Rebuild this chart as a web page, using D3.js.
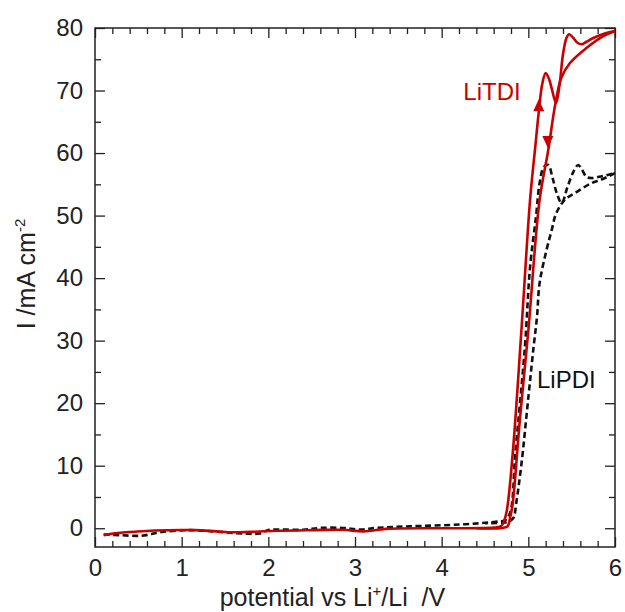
<!DOCTYPE html>
<html>
<head>
<meta charset="utf-8">
<script src="https://cdn.jsdelivr.net/npm/d3@7"></script>
<style>
  html, body { margin: 0; padding: 0; background: #fff; }
  svg { display: block; font-family: "Liberation Sans", Arial, sans-serif; }
  .tick text { font-size: 24px; fill: #222; }
  .axis-label { font-size: 25px; fill: #222; }
  .series-label { font-size: 24px; }
</style>
</head>
<body>
<div id="chart"></div>
<script>
// LiTDI (red, solid) - forward scan then reverse scan
const litdiForwardV = [0.1, 0.23, 0.45, 0.69, 1.15, 1.4, 1.6, 1.85, 2.1, 2.54, 2.86, 3.1, 3.36, 4.0, 4.6, 4.68, 4.71, 4.75, 4.82, 4.92, 5.02, 5.08, 5.12, 5.16, 5.20, 5.24, 5.27, 5.32, 5.36, 5.40, 5.44, 5.47, 5.52, 5.57, 5.615, 5.67, 5.75, 5.9, 6.0];
const litdiForwardI = [-1.1, -0.8, -0.55, -0.35, -0.3, -0.5, -0.65, -0.55, -0.4, -0.3, -0.25, -0.5, -0.1, 0.0, 0.1, 0.3, 0.8, 2.7, 12, 31.6, 52.5, 61, 66.5, 71, 72.8, 71.8, 70.3, 68.0, 70.9, 75.8, 78.4, 79.0, 78.4, 77.6, 77.4, 77.8, 78.4, 79.2, 79.5];
const litdiReverseV = [6.0, 5.865, 5.67, 5.48, 5.38, 5.32, 5.29, 5.23, 5.13, 5.0, 4.9, 4.82, 4.79, 4.76, 4.7, 4.4];
const litdiReverseI = [79.5, 78.7, 76.8, 74.4, 72.0, 68.5, 66.1, 60.5, 52.5, 31.6, 17, 4, 1.7, 0.3, 0.05, 0.0];

// LiPDI (black, dashed)
const lipdiForwardV = [0.1, 0.29, 0.54, 0.77, 1.1, 1.35, 1.73, 1.9, 2.0, 2.4, 2.6, 2.86, 3.06, 3.25, 3.63, 4.21, 4.6, 4.73, 4.79, 4.85, 4.96, 5.02, 5.09, 5.13, 5.18, 5.23, 5.28, 5.33, 5.385, 5.45, 5.52, 5.575, 5.62, 5.67, 5.73, 5.85, 6.0];
const lipdiForwardI = [-1.0, -1.1, -1.2, -0.6, -0.3, -0.5, -0.85, -0.85, -0.3, -0.25, 0.05, 0.05, -0.2, 0.05, 0.3, 0.6, 1.0, 1.3, 2.5, 12, 28.9, 41.8, 50, 55.2, 57.8, 58.1, 56, 53.5, 52.0, 54.5, 57, 58.1, 57.3, 56.2, 56.0, 56.3, 56.8];
const lipdiReverseV = [6.0, 5.85, 5.73, 5.56, 5.42, 5.32, 5.27, 5.21, 5.13, 5.10, 5.06, 5.0, 4.92, 4.86, 4.83, 4.78, 4.7, 4.5];
const lipdiReverseI = [56.8, 55.8, 55.2, 53.8, 52.5, 50.3, 47.7, 44.5, 39.2, 33.8, 28.9, 20.9, 10.2, 4, 1.7, 1.1, 0.9, 0.8];

// scan direction arrows on the LiTDI curve (tip position)
const arrowV = [5.12, 5.225];
const arrowI = [68.6, 60.8];
const arrowDir = ["up", "down"];

const xTicks = [0, 1, 2, 3, 4, 5, 6];
const yTicks = [0, 10, 20, 30, 40, 50, 60, 70, 80];

const W = 625, H = 612;
const margin = { top: 28, right: 10, bottom: 65, left: 95 };
const plotW = W - margin.left - margin.right;
const plotH = H - margin.top - margin.bottom;

const svg = d3.select("#chart").append("svg")
  .attr("width", W)
  .attr("height", H);

const g = svg.append("g").attr("transform", `translate(${margin.left},${margin.top})`);

const x = d3.scaleLinear().domain([0, 6]).range([0, plotW]);
const y = d3.scaleLinear().domain([-3, 80]).range([plotH, 0]);

const zip = (vs, is) => vs.map((v, k) => ({ v, i: is[k] }));
const lineFree = d3.line().x(d => x(d.v)).y(d => y(d.i)).curve(d3.curveCatmullRom.alpha(0.5));

const red = "#c80000";

// minor ticks
const xMinor = d3.range(0, 6.001, 0.2).filter(v => Math.abs(v - Math.round(v)) > 1e-6);
const yMinor = d3.range(5, 80, 10);

function styleAxis(sel) {
  sel.select(".domain").remove();
  sel.selectAll(".tick line").attr("stroke", "#222").attr("stroke-width", 1.3);
}

// bottom
g.append("g").attr("transform", `translate(0,${plotH})`)
  .call(d3.axisBottom(x).tickValues(xTicks).tickFormat(d3.format("d")).tickSizeInner(-10).tickSizeOuter(0).tickPadding(12))
  .call(styleAxis);
g.append("g").attr("transform", `translate(0,${plotH})`)
  .call(d3.axisBottom(x).tickValues(xMinor).tickFormat("").tickSizeInner(-6).tickSizeOuter(0))
  .call(styleAxis);
// top
g.append("g")
  .call(d3.axisTop(x).tickValues(xTicks).tickFormat("").tickSizeInner(-10).tickSizeOuter(0))
  .call(styleAxis);
g.append("g")
  .call(d3.axisTop(x).tickValues(xMinor).tickFormat("").tickSizeInner(-6).tickSizeOuter(0))
  .call(styleAxis);
// left
g.append("g")
  .call(d3.axisLeft(y).tickValues(yTicks).tickFormat(d3.format("d")).tickSizeInner(-10).tickSizeOuter(0).tickPadding(12))
  .call(styleAxis);
g.append("g")
  .call(d3.axisLeft(y).tickValues(yMinor).tickFormat("").tickSizeInner(-6).tickSizeOuter(0))
  .call(styleAxis);
// right
g.append("g").attr("transform", `translate(${plotW},0)`)
  .call(d3.axisRight(y).tickValues(yTicks).tickFormat("").tickSizeInner(-10).tickSizeOuter(0))
  .call(styleAxis);
g.append("g").attr("transform", `translate(${plotW},0)`)
  .call(d3.axisRight(y).tickValues(yMinor).tickFormat("").tickSizeInner(-6).tickSizeOuter(0))
  .call(styleAxis);

g.selectAll(".tick text").attr("font-family", null).attr("font-size", null);

// frame
g.append("rect")
  .attr("width", plotW).attr("height", plotH)
  .attr("fill", "none").attr("stroke", "#222").attr("stroke-width", 1.5);

// curves
g.append("clipPath").attr("id", "clip").append("rect")
  .attr("width", plotW).attr("height", plotH);
const curves = g.append("g").attr("clip-path", "url(#clip)");

curves.append("path")
  .attr("d", lineFree(zip(lipdiForwardV, lipdiForwardI)))
  .attr("fill", "none").attr("stroke", "#111").attr("stroke-width", 2.6)
  .attr("stroke-dasharray", "6,3.5");
curves.append("path")
  .attr("d", lineFree(zip(lipdiReverseV, lipdiReverseI)))
  .attr("fill", "none").attr("stroke", "#111").attr("stroke-width", 2.6)
  .attr("stroke-dasharray", "6,3.5");

curves.append("path")
  .attr("d", lineFree(zip(litdiForwardV, litdiForwardI)))
  .attr("fill", "none").attr("stroke", red).attr("stroke-width", 2.6);
curves.append("path")
  .attr("d", lineFree(zip(litdiReverseV, litdiReverseI)))
  .attr("fill", "none").attr("stroke", red).attr("stroke-width", 2.6);

// arrows
g.selectAll(".arrow")
  .data(arrowV.map((v, k) => ({ v, i: arrowI[k], dir: arrowDir[k] })))
  .enter()
  .append("path")
  .attr("class", "arrow")
  .attr("fill", red)
  .attr("d", d => {
    const tx = x(d.v), ty = y(d.i);
    const s = d.dir === "up" ? 1 : -1;
    return `M${tx},${ty} L${tx - 5.5},${ty + s * 12} L${tx + 5.5},${ty + s * 12} Z`;
  });

// series labels
g.append("text").attr("class", "series-label")
  .attr("x", x(4.25)).attr("y", y(68.5))
  .attr("fill", red)
  .text("LiTDI");
g.append("text").attr("class", "series-label")
  .attr("x", x(5.1)).attr("y", y(22.4))
  .attr("fill", "#111")
  .text("LiPDI");

// axis labels
const xl = svg.append("text").attr("class", "axis-label")
  .attr("x", margin.left + x(2.74)).attr("y", 606)
  .attr("text-anchor", "middle")
  .style("white-space", "pre");
xl.append("tspan").text("potential vs Li");
xl.append("tspan").attr("dy", -10).attr("font-size", 15).text("+");
xl.append("tspan").attr("dy", 10).text("/Li  /V");

const yl = svg.append("text").attr("class", "axis-label")
  .attr("transform", "translate(35,274) rotate(-90)")
  .attr("text-anchor", "middle");
yl.append("tspan").text("I /mA cm");
yl.append("tspan").attr("dy", -10).attr("font-size", 15).text("-2");
</script>
</body>
</html>
